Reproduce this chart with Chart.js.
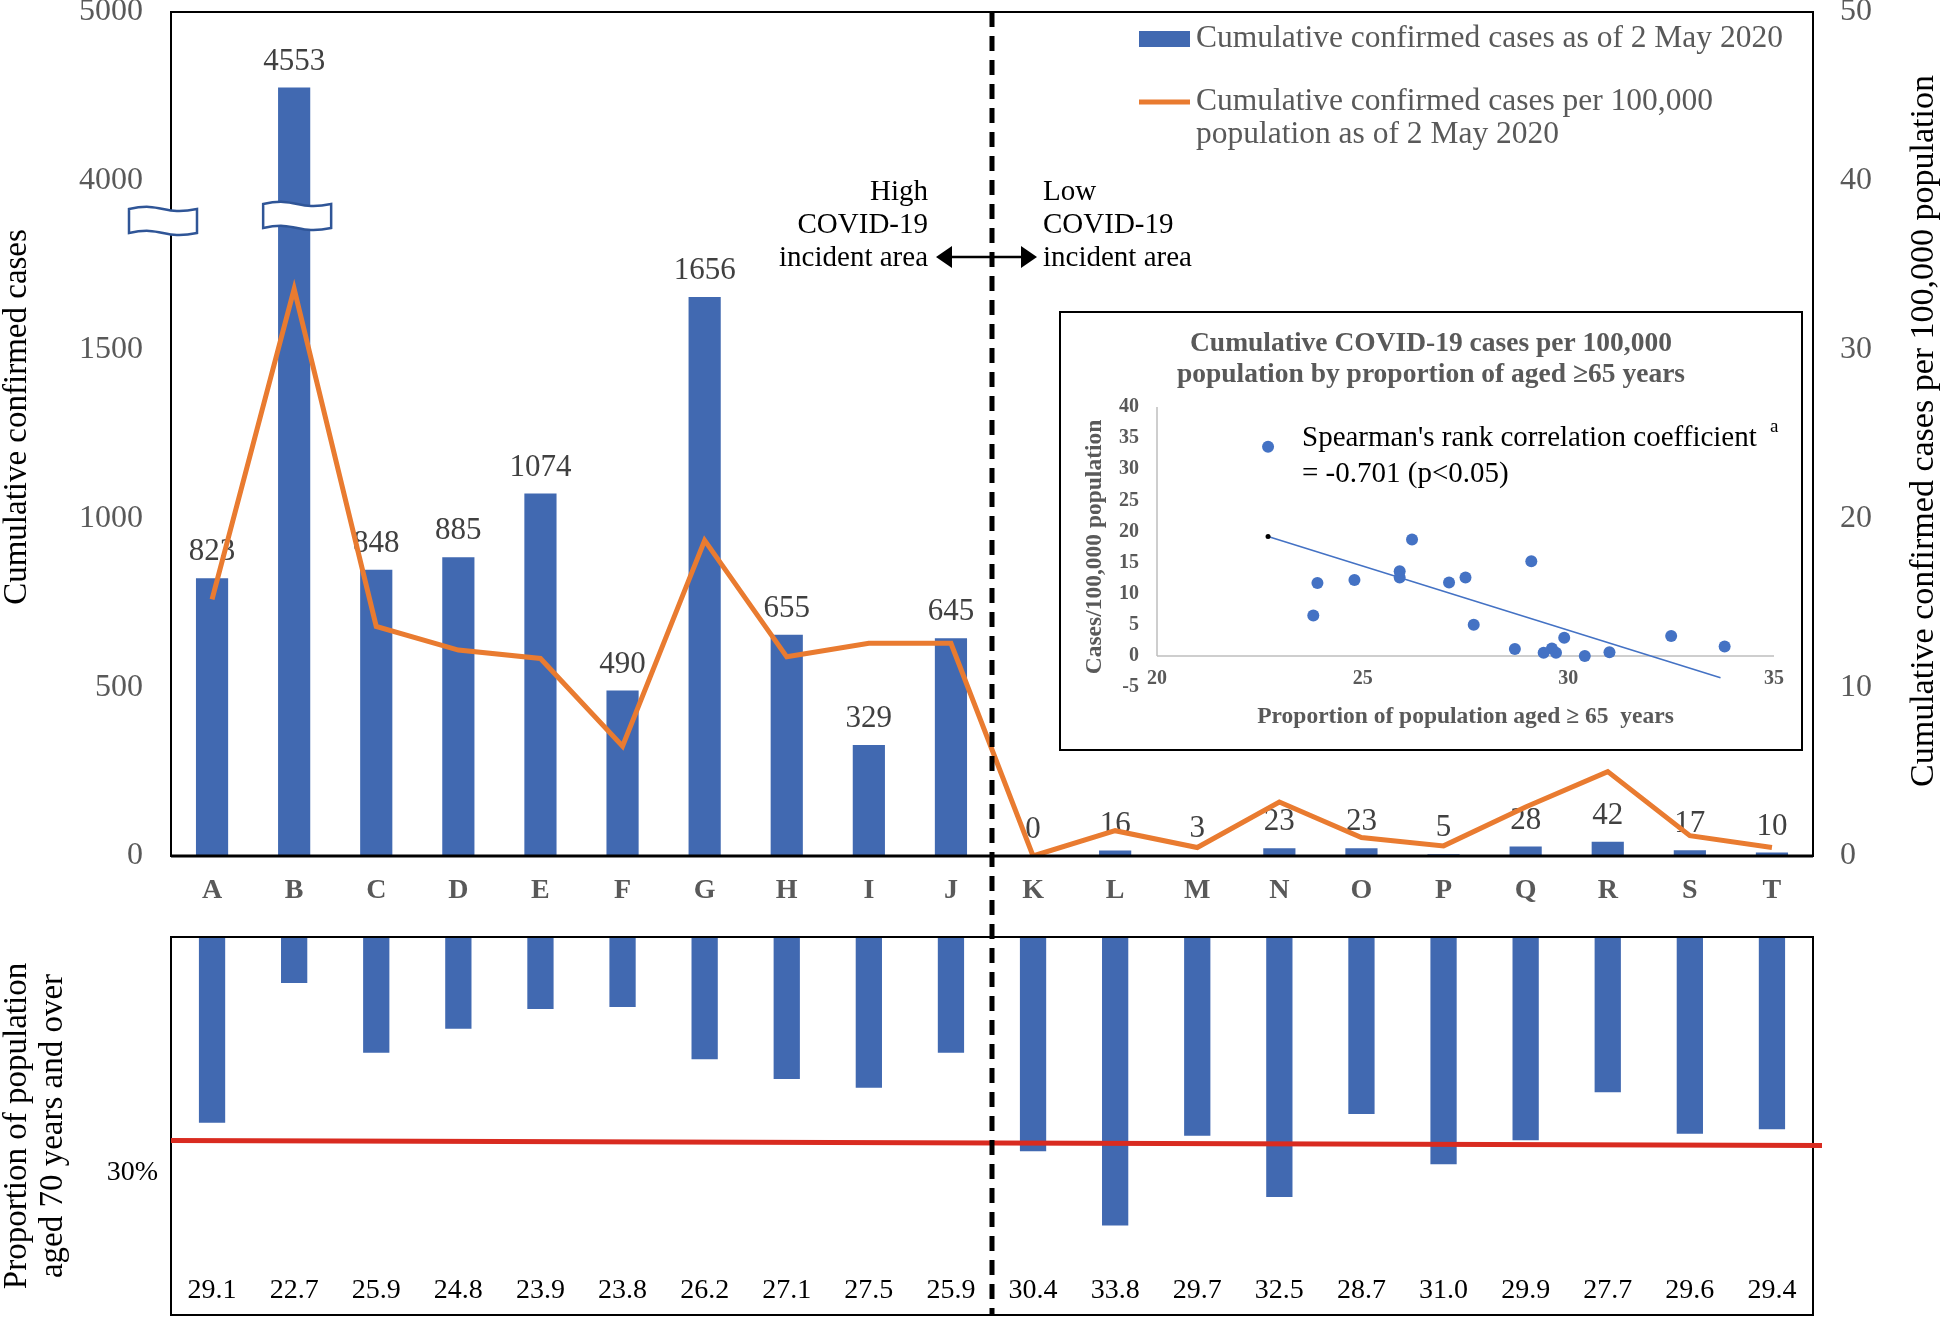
<!DOCTYPE html>
<html lang="en">
<head>
<meta charset="utf-8">
<title>Cumulative COVID-19 cases by area</title>
<script src="https://cdn.jsdelivr.net/npm/chart.js@4.4.1/dist/chart.umd.min.js"></script>
<style>
  html, body { margin: 0; padding: 0; background: #fff; }
  #page { position: relative; width: 1946px; height: 1319px; overflow: hidden; background: #fff; }
  .panel { position: absolute; }
  #insetBox { background: #fff; }
</style>
</head>
<body>
<div id="page">
  <div class="panel" style="left:0;top:0;width:1946px;height:930px;"><canvas id="casesChart"></canvas></div>
  <div class="panel" style="left:0;top:930px;width:1946px;height:389px;"><canvas id="ageChart"></canvas></div>
  <div class="panel" id="insetBox" style="left:1059px;top:311px;width:744px;height:440px;"><canvas id="scatterChart"></canvas></div>
</div>
<script>
const areas = ['A', 'B', 'C', 'D', 'E', 'F', 'G', 'H', 'I', 'J', 'K', 'L', 'M', 'N', 'O', 'P', 'Q', 'R', 'S', 'T'];
const cases = [823, 4553, 848, 885, 1074, 490, 1656, 655, 329, 645, 0, 16, 3, 23, 23, 5, 28, 42, 17, 10];
const casesPer100k = [15.2, 33.6, 13.6, 12.2, 11.7, 6.5, 18.7, 11.8, 12.6, 12.6, 0, 1.5, 0.5, 3.2, 1.1, 0.6, 2.9, 5.0, 1.2, 0.5];
const agedShare = [29.1, 22.7, 25.9, 24.8, 23.9, 23.8, 26.2, 27.1, 27.5, 25.9, 30.4, 33.8, 29.7, 32.5, 28.7, 31.0, 29.9, 27.7, 29.6, 29.4];

// left axis is cut between 2000 and 4000
const caseTicks = [0, 500, 1000, 1500, 4000, 5000];
const breakFrom = 2000;
const breakTo = 4000;
const lowStep = 500;
const highStep = 1000;
const breakMark = 1890;

const rateTicksMax = 50;
const rateStep = 10;
const ageAxisMin = 20.6;
const ageAxisMax = 37.9;
const agedThreshold = 30;
const dividerAt = 9.5; // between J and K

const trendX = [22.7, 33.7];
const trendY = [19.2, -3.5];

const BLUE = '#4169B1';
const ORANGE = '#E97B30';
const SERIF = '"Liberation Serif", "Times New Roman", serif';
const font = (size, weight = 'normal') => `${weight} ${size}px ${SERIF}`;

const drawText = (ctx, text, x, y, opts) => {
  ctx.save();
  ctx.font = font(opts.size, opts.weight);
  ctx.fillStyle = opts.color || '#000';
  ctx.textAlign = opts.align || 'center';
  ctx.textBaseline = 'middle';
  ctx.translate(x, y);
  if (opts.rotate) ctx.rotate(opts.rotate);
  if (opts.squeeze) ctx.scale(opts.squeeze, 1);
  ctx.fillText(text, 0, 0);
  ctx.restore();
};

const drawBreak = (ctx, cx, cy, w, h) => {
  const l = cx - w / 2, r = cx + w / 2, t = cy - h / 2, b = cy + h / 2, a = h * 0.3;
  ctx.save();
  ctx.beginPath();
  ctx.moveTo(l, t);
  ctx.bezierCurveTo(cx, t - a, cx, t + a, r, t);
  ctx.lineTo(r, b);
  ctx.bezierCurveTo(cx, b + a, cx, b - a, l, b);
  ctx.closePath();
  ctx.fillStyle = '#fff';
  ctx.fill();
  ctx.strokeStyle = '#2F5597';
  ctx.lineWidth = 2.5;
  ctx.stroke();
  ctx.restore();
};

const drawDivider = (ctx, x, y0, y1, offset) => {
  ctx.save();
  ctx.strokeStyle = '#000';
  ctx.lineWidth = 5;
  ctx.setLineDash([15, 9]);
  ctx.lineDashOffset = offset;
  ctx.beginPath();
  ctx.moveTo(x, y0);
  ctx.lineTo(x, y1);
  ctx.stroke();
  ctx.restore();
};

class BrokenAxis extends Chart.LinearScale {
  determineDataLimits() {
    this.min = caseTicks[0];
    this.max = caseTicks[caseTicks.length - 1];
  }
  buildTicks() {
    return caseTicks.map(value => ({ value }));
  }
  toSlot(value) {
    return value <= breakFrom ? value / lowStep : breakFrom / lowStep + (value - breakTo) / highStep;
  }
  getPixelForValue(value) {
    return this.getPixelForDecimal(this.toSlot(value) / (caseTicks.length - 1));
  }
  getValueForPixel(pixel) {
    const slot = this.getDecimalForPixel(pixel) * (caseTicks.length - 1);
    const cut = breakFrom / lowStep;
    return slot <= cut ? slot * lowStep : breakTo + (slot - cut) * highStep;
  }
}
BrokenAxis.id = 'broken';
BrokenAxis.defaults = Chart.LinearScale.defaults;
Chart.register(BrokenAxis);

const noPad = s => { s.paddingTop = 0; s.paddingBottom = 0; s.paddingLeft = 0; s.paddingRight = 0; };

const casesDecor = {
  id: 'casesDecor',
  afterDatasetDraw(chart, args) {
    if (args.meta.type !== 'bar') return;
    const { ctx } = chart;
    args.meta.data.forEach((bar, i) => {
      drawText(ctx, String(cases[i]), bar.x, bar.y - 26, { size: 31, color: '#404040' });
    });
  },
  afterDatasetsDraw(chart) {
    const { ctx, chartArea: area, scales } = chart;
    const bars = chart.getDatasetMeta(1).data;

    ctx.save();
    ctx.strokeStyle = '#000';
    ctx.lineWidth = 2;
    ctx.strokeRect(area.left, area.top, area.right - area.left, area.bottom - area.top);
    ctx.lineWidth = 3;
    ctx.beginPath();
    ctx.moveTo(area.left, area.bottom);
    ctx.lineTo(area.right, area.bottom);
    ctx.stroke();
    ctx.restore();

    const by = scales.yCases.getPixelForValue(breakMark);
    drawBreak(ctx, area.left - 8, by + 3, 68, 24);
    drawBreak(ctx, bars[1].x + 3, by - 2, 68, 24);

    const dx = scales.x.getPixelForValue(dividerAt);
    drawDivider(ctx, dx, area.top, chart.height, 0);

    // double arrow
    const ay = 257, ax0 = dx - 56, ax1 = dx + 45;
    ctx.save();
    ctx.strokeStyle = '#000';
    ctx.fillStyle = '#000';
    ctx.lineWidth = 2.5;
    ctx.beginPath();
    ctx.moveTo(ax0 + 10, ay);
    ctx.lineTo(ax1 - 10, ay);
    ctx.stroke();
    ctx.beginPath();
    ctx.moveTo(ax0, ay); ctx.lineTo(ax0 + 16, ay - 11); ctx.lineTo(ax0 + 16, ay + 11); ctx.closePath();
    ctx.moveTo(ax1, ay); ctx.lineTo(ax1 - 16, ay - 11); ctx.lineTo(ax1 - 16, ay + 11); ctx.closePath();
    ctx.fill();
    ctx.restore();

    ['High', 'COVID-19', 'incident area'].forEach((t, i) => drawText(ctx, t, 928, 192 + i * 33, { size: 29, align: 'right' }));
    ['Low', 'COVID-19', 'incident area'].forEach((t, i) => drawText(ctx, t, 1043, 192 + i * 33, { size: 29, align: 'left' }));

    // legend
    ctx.save();
    ctx.fillStyle = BLUE;
    ctx.fillRect(1139, 31, 51, 16);
    ctx.strokeStyle = ORANGE;
    ctx.lineWidth = 5;
    ctx.beginPath();
    ctx.moveTo(1139, 102);
    ctx.lineTo(1190, 102);
    ctx.stroke();
    ctx.restore();
    drawText(ctx, chart.data.datasets[1].label, 1196, 39, { size: 31.5, color: '#595959', align: 'left' });
    drawText(ctx, 'Cumulative confirmed cases per 100,000', 1196, 102, { size: 31.5, color: '#595959', align: 'left' });
    drawText(ctx, 'population as of 2 May 2020', 1196, 135, { size: 31.5, color: '#595959', align: 'left' });

    // axis titles
    drawText(ctx, 'Cumulative confirmed cases', 17, 417, { size: 33, rotate: -Math.PI / 2 });
    drawText(ctx, 'Cumulative confirmed cases per 100,000 population', 1924, 431, { size: 34, rotate: -Math.PI / 2 });
  }
};

new Chart(document.getElementById('casesChart'), {
  type: 'bar',
  data: {
    labels: areas,
    datasets: [
      {
        type: 'line',
        label: 'Cumulative confirmed cases per 100,000 population as of 2 May 2020',
        data: casesPer100k,
        yAxisID: 'yRate',
        borderColor: ORANGE,
        borderWidth: 5,
        pointRadius: 0,
        tension: 0,
        order: 0
      },
      {
        type: 'bar',
        label: 'Cumulative confirmed cases as of 2 May 2020',
        data: cases,
        yAxisID: 'yCases',
        backgroundColor: BLUE,
        barPercentage: 0.8,
        categoryPercentage: 0.49,
        order: 1
      }
    ]
  },
  options: {
    responsive: true,
    maintainAspectRatio: false,
    animation: false,
    layout: { padding: { top: 12, left: 0, right: 0, bottom: 0 } },
    plugins: { legend: { display: false }, tooltip: { enabled: false } },
    scales: {
      x: {
        grid: { display: false, drawTicks: false },
        border: { display: false },
        ticks: { font: { family: SERIF, size: 28, weight: 'bold' }, color: '#595959', padding: 18, maxRotation: 0, autoSkip: false },
        afterFit: s => { s.height = 74; noPad(s); }
      },
      yCases: {
        type: 'broken',
        position: 'left',
        grid: { display: false, drawTicks: false },
        border: { display: false },
        ticks: { callback: v => String(v), font: { family: SERIF, size: 32 }, color: '#595959', padding: 28 },
        afterFit: s => { s.width = 171; noPad(s); }
      },
      yRate: {
        type: 'linear',
        position: 'right',
        min: 0,
        max: rateTicksMax,
        grid: { display: false, drawTicks: false },
        border: { display: false },
        ticks: { stepSize: rateStep, font: { family: SERIF, size: 32 }, color: '#595959', padding: 27 },
        afterFit: s => { s.width = 133; noPad(s); }
      }
    }
  },
  plugins: [casesDecor]
});

const ageDecor = {
  id: 'ageDecor',
  afterDatasetsDraw(chart) {
    const { ctx, chartArea: area, scales } = chart;

    ctx.save();
    ctx.strokeStyle = '#000';
    ctx.lineWidth = 2;
    ctx.strokeRect(area.left, area.top, area.right - area.left, area.bottom - area.top);
    ctx.restore();

    const ry = scales.y.getPixelForValue(agedThreshold);
    ctx.save();
    ctx.strokeStyle = '#D92B20';
    ctx.lineWidth = 5;
    ctx.beginPath();
    ctx.moveTo(area.left, ry - 2);
    ctx.lineTo(area.right + 9, ry + 3);
    ctx.stroke();
    ctx.restore();

    chart.getDatasetMeta(0).data.forEach((bar, i) => {
      drawText(ctx, agedShare[i].toFixed(1), bar.x, area.bottom - 24, { size: 28 });
    });

    drawDivider(ctx, scales.x.getPixelForValue(dividerAt), 0, area.bottom, (930 - 12) % 24);

    drawText(ctx, '30%', 158, ry + 30, { size: 28, align: 'right' });
    drawText(ctx, 'Proportion of population', 17, 196, { size: 33, rotate: -Math.PI / 2 });
    drawText(ctx, 'aged 70 years and over', 53, 196, { size: 33, rotate: -Math.PI / 2 });
  }
};

new Chart(document.getElementById('ageChart'), {
  type: 'bar',
  data: {
    labels: areas,
    datasets: [{
      label: 'Proportion of population aged 70 years and over',
      data: agedShare,
      backgroundColor: BLUE,
      base: ageAxisMin,
      barPercentage: 0.8,
      categoryPercentage: 0.4
    }]
  },
  options: {
    responsive: true,
    maintainAspectRatio: false,
    animation: false,
    layout: { padding: { left: 171, right: 133, top: 7, bottom: 4 } },
    plugins: { legend: { display: false }, tooltip: { enabled: false } },
    scales: {
      x: { display: false },
      y: { display: false, reverse: true, min: ageAxisMin, max: ageAxisMax }
    }
  },
  plugins: [ageDecor]
});

const scatterDecor = {
  id: 'scatterDecor',
  beforeDatasetsDraw(chart) {
    const { ctx, scales: { x, y } } = chart;
    const x0 = x.getPixelForValue(x.min), x1 = x.getPixelForValue(x.max);
    const y0 = y.getPixelForValue(0), yTop = y.getPixelForValue(y.max);
    ctx.save();
    ctx.strokeStyle = '#BFBFBF';
    ctx.lineWidth = 1.5;
    ctx.beginPath();
    ctx.moveTo(x0, yTop);
    ctx.lineTo(x0, y0);
    ctx.moveTo(x0, y0);
    ctx.lineTo(x1, y0);
    ctx.stroke();
    ctx.restore();
  },
  afterDraw(chart) {
    const { ctx, width, height, chartArea: area, scales: { x } } = chart;
    ctx.save();
    ctx.strokeStyle = '#000';
    ctx.lineWidth = 2;
    ctx.strokeRect(1, 1, width - 2, height - 2);
    ctx.restore();
    // horizontal tick labels sit just above the bottom of the plot
    x.ticks.forEach(t => {
      drawText(ctx, String(t.value), x.getPixelForValue(t.value), area.bottom - 8, { size: 20, weight: 'bold', color: '#595959' });
    });
    drawText(ctx, 'Cumulative COVID-19 cases per 100,000', width / 2, 33, { size: 27.5, weight: 'bold', color: '#595959' });
    drawText(ctx, 'population by proportion of aged \u226565 years', width / 2, 64, { size: 27.5, weight: 'bold', color: '#595959' });
    drawText(ctx, "Spearman's rank correlation coefficient", 243, 127, { size: 29, align: 'left' });
    drawText(ctx, 'a', 711, 116, { size: 19, align: 'left' });
    drawText(ctx, '= -0.701 (p<0.05)', 243, 163, { size: 29, align: 'left' });
  }
};

new Chart(document.getElementById('scatterChart'), {
  type: 'scatter',
  data: {
    datasets: [
      {
        label: 'Cases per 100,000 population',
        data: areas.map((a, i) => ({ x: agedShare[i], y: casesPer100k[i] })),
        backgroundColor: '#4472C4',
        pointRadius: 6,
        pointBorderWidth: 0
      },
      {
        type: 'line',
        label: 'Trend',
        data: trendX.map((x, i) => ({ x, y: trendY[i] })),
        borderColor: '#4472C4',
        borderWidth: 1.5,
        pointRadius: [2.5, 0],
        pointBackgroundColor: '#000',
        pointBorderWidth: 0
      }
    ]
  },
  options: {
    responsive: true,
    maintainAspectRatio: false,
    animation: false,
    layout: { padding: { top: 96, right: 29, bottom: 0, left: 0 } },
    plugins: { legend: { display: false }, tooltip: { enabled: false } },
    scales: {
      x: {
        type: 'linear',
        min: 20,
        max: 35,
        grid: { display: false, drawTicks: false },
        border: { display: false },
        ticks: { stepSize: 5, display: false },
        title: { display: true, text: 'Proportion of population aged \u2265 65  years', font: { family: SERIF, size: 23.5, weight: 'bold' }, color: '#595959', padding: { top: 0, bottom: 20 } },
        afterFit: s => { s.height = 64; noPad(s); }
      },
      y: {
        min: -5,
        max: 40,
        grid: { display: false, drawTicks: false },
        border: { display: false },
        ticks: { stepSize: 5, font: { family: SERIF, size: 20, weight: 'bold' }, color: '#595959', padding: 18 },
        title: { display: true, text: 'Cases/100,000 population', font: { family: SERIF, size: 23.5, weight: 'bold' }, color: '#595959', padding: { top: 22, bottom: 0 } },
        afterFit: s => { s.width = 98; noPad(s); }
      }
    }
  },
  plugins: [scatterDecor]
});
</script>
</body>
</html>
